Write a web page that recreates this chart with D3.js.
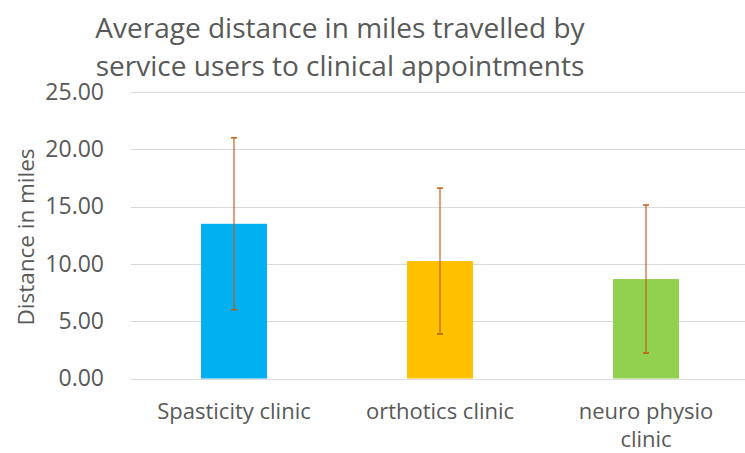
<!DOCTYPE html>
<html>
<head>
<meta charset="utf-8">
<script src="https://cdn.jsdelivr.net/npm/d3@7"></script>
<style>
  body { margin: 0; background: #fff; }
  text { font-family: "Open Sans", sans-serif; fill: #595959; }
</style>
</head>
<body>
<script>
const clinics = ["Spasticity clinic", "orthotics clinic", "neuro physio clinic"];
const avgMiles = [13.5, 10.25, 8.68];
const errMiles = [7.5, 6.36, 6.46];
const barColors = ["#00B0F0", "#FFC000", "#92D050"];
const yTicks = [0, 5, 10, 15, 20, 25];

const width = 745, height = 453;
const margin = { top: 92, right: -4, bottom: 74, left: 131 };

const svg = d3.select("body").append("svg")
  .attr("width", width)
  .attr("height", height);

const y = d3.scaleLinear().domain([0, 25]).range([height - margin.bottom - 0.5, margin.top]);
const x = d3.scaleBand().domain(clinics).range([margin.left, width - margin.right]).paddingInner(0.68).paddingOuter(0.34);

// grid
svg.append("g").selectAll("line").data(yTicks).enter().append("line")
  .attr("x1", margin.left).attr("x2", width)
  .attr("y1", d => Math.round(y(d)) + 0.5).attr("y2", d => Math.round(y(d)) + 0.5)
  .attr("stroke", "#d9d9d9").attr("stroke-width", 1);

// y axis labels
const yAxis = d3.axisLeft(y).tickValues(yTicks).tickFormat(d3.format(".2f")).tickSize(0).tickPadding(0);
svg.append("g")
  .attr("transform", "translate(" + (margin.left - 27) + ",0)")
  .call(yAxis)
  .call(g => g.select(".domain").remove())
  .selectAll("text")
  .style("font-size", "23px")
  .style("font-family", "'Open Sans', sans-serif")
  .attr("fill", "#595959");

// bars
const data = clinics.map((c, i) => ({ name: c, value: avgMiles[i], err: errMiles[i], color: barColors[i] }));

svg.append("g").selectAll("rect").data(data).enter().append("rect")
  .attr("x", d => x(d.name))
  .attr("width", x.bandwidth())
  .attr("y", d => y(d.value))
  .attr("height", d => y(0) - y(d.value))
  .attr("fill", d => d.color);

// error bars
const eb = svg.append("g").attr("stroke", "#C55A11").attr("stroke-opacity", 0.75).attr("stroke-width", 1.5);
eb.selectAll("line.v").data(data).enter().append("line")
  .attr("class", "v")
  .attr("x1", d => x(d.name) + x.bandwidth() / 2)
  .attr("x2", d => x(d.name) + x.bandwidth() / 2)
  .attr("y1", d => y(d.value + d.err))
  .attr("y2", d => y(d.value - d.err));
eb.selectAll("line.top").data(data).enter().append("line")
  .attr("class", "top")
  .attr("x1", d => x(d.name) + x.bandwidth() / 2 - 3)
  .attr("x2", d => x(d.name) + x.bandwidth() / 2 + 3)
  .attr("y1", d => y(d.value + d.err))
  .attr("y2", d => y(d.value + d.err))
  .attr("stroke-opacity", 1);
eb.selectAll("line.bot").data(data).enter().append("line")
  .attr("class", "bot")
  .attr("x1", d => x(d.name) + x.bandwidth() / 2 - 3)
  .attr("x2", d => x(d.name) + x.bandwidth() / 2 + 3)
  .attr("y1", d => y(d.value - d.err))
  .attr("y2", d => y(d.value - d.err))
  .attr("stroke-opacity", 1);

// x labels
const xLabels = [["Spasticity clinic"], ["orthotics clinic"], ["neuro physio", "clinic"]];
const xl = svg.append("g").selectAll("text").data(data).enter().append("text")
  .attr("text-anchor", "middle")
  .style("font-size", "22px");
xl.selectAll("tspan").data((d, i) => xLabels[i].map(t => ({ t, cx: x(d.name) + x.bandwidth() / 2 })))
  .enter().append("tspan")
  .attr("x", d => d.cx)
  .attr("y", (d, i) => 419 + i * 28)
  .text(d => d.t);

// axis title
svg.append("text")
  .attr("transform", "translate(34," + 237 + ") rotate(-90)")
  .attr("text-anchor", "middle")
  .style("font-size", "22.5px")
  .text("Distance in miles");

// chart title
svg.append("text")
  .attr("text-anchor", "middle")
  .style("font-size", "28px")
  .selectAll("tspan")
  .data(["Average distance in miles travelled by", "service users to clinical appointments"])
  .enter().append("tspan")
  .attr("x", 340)
  .attr("y", (d, i) => 38 + i * 38)
  .text(d => d);
</script>
</body>
</html>
